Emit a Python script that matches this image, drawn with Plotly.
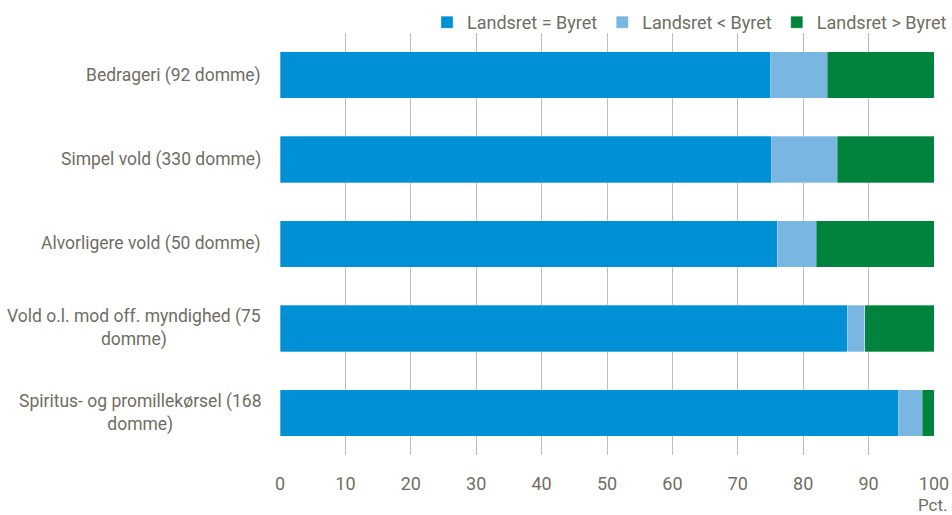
import plotly.graph_objects as go

# ---------------------------------------------------------------------------
# Data (pct. of domme)
# ---------------------------------------------------------------------------
categories = [
    "Bedrageri (92 domme)",
    "Simpel vold (330 domme)",
    "Alvorligere vold (50 domme)",
    "Vold o.l. mod off. myndighed (75<br>domme)",
    "Spiritus- og promillekørsel (168<br>domme)",
]
lige = [75.0, 75.2, 76.0, 86.7, 94.6]
mildere = [8.7, 10.0, 6.0, 2.7, 3.6]
strengere = [16.3, 14.8, 18.0, 10.6, 1.8]

series = [
    ("Landsret = Byret", lige, "#0090d6"),
    ("Landsret < Byret", mildere, "#7ab6e2"),
    ("Landsret > Byret", strengere, "#00843d"),
]

TEXT = "#6f6e63"
FONT = "Roboto, Liberation Sans, Arial, sans-serif"

fig = go.Figure()
for name, vals, color in series:
    fig.add_trace(go.Bar(
        x=vals, y=categories, orientation="h", name=name,
        marker=dict(color=color, line=dict(width=0.6, color="rgba(255,255,255,0.5)")),
        hovertemplate="%{y}: %{x:.1f} pct.<extra>" + name + "</extra>",
    ))

# category labels as annotations so wrapped lines are centred
for c in categories:
    fig.add_annotation(x=0, y=c, xref="x", yref="y", text=c,
                       showarrow=False, xanchor="right", align="center",
                       xshift=-17, font=dict(size=17.5, color=TEXT, family=FONT))

fig.add_annotation(x=100, y=0, xref="x", yref="paper", text="Pct.",
                   showarrow=False, xanchor="right", yanchor="top", xshift=16, yshift=-38,
                   font=dict(size=17, color=TEXT, family=FONT))

# plot area 280..934 px; paper runs to the right edge so the legend can reach it
fig.update_layout(
    barmode="stack", bargap=0.45,
    width=952, height=515,
    paper_bgcolor="white", plot_bgcolor="white",
    font=dict(family=FONT, color=TEXT, size=18),
    margin=dict(l=280, r=0, t=4, b=60, autoexpand=False),
    xaxis=dict(range=[0, 100], dtick=10, showgrid=True, gridcolor="#bdbdb4", gridwidth=1.2,
               zeroline=False, showline=False, ticks="", ticklabelstandoff=16,
               automargin=False, domain=[0, 654 / 672],
               tickfont=dict(size=18, color=TEXT)),
    yaxis=dict(autorange="reversed", showticklabels=False, showgrid=False, zeroline=False,
               domain=[0, 0.9357]),
    legend=dict(orientation="h", x=1.0, xanchor="right", y=1.0, yanchor="top",
                font=dict(size=18, color=TEXT), itemwidth=30, traceorder="normal",
                bgcolor="rgba(0,0,0,0)"),
    showlegend=True,
)

fig.write_html("out.html", config={"displayModeBar": False},
               post_script="document.body.style.margin='0';")
